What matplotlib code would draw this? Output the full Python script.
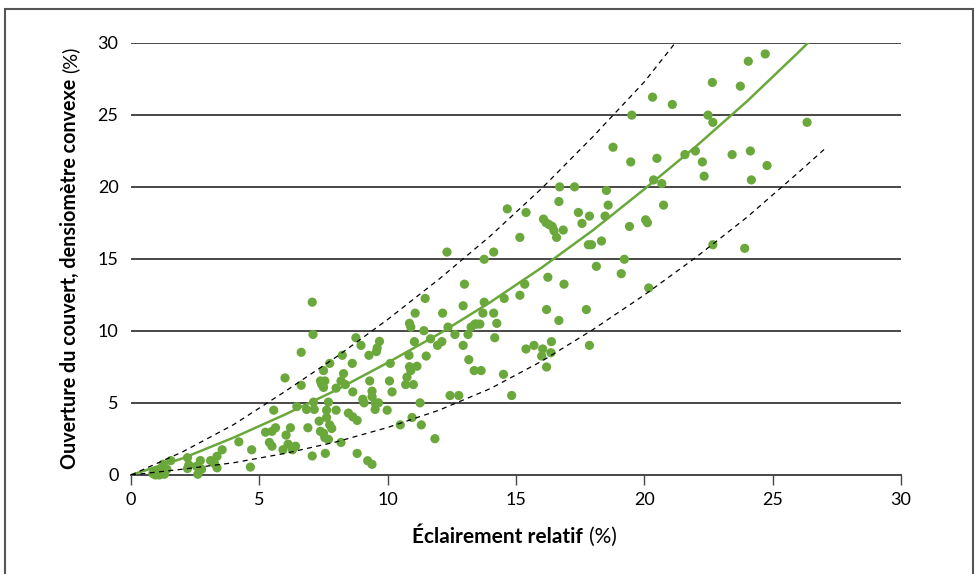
import numpy as np
import matplotlib
matplotlib.use('Agg')
import matplotlib.pyplot as plt
from matplotlib.patches import Rectangle

# Données : éclairement relatif (%) et ouverture du couvert (%)
eclairement = [
    0.85, 0.95, 1.1, 1.3, 1.0, 1.2, 1.4, 1.25, 1.55,
    2.2, 2.25, 2.2, 2.55, 2.6, 2.7, 2.75, 3.1, 3.35, 3.25, 3.35, 3.55, 4.2, 4.7, 4.65,
    5.24, 5.39, 5.49, 5.56, 5.49, 5.63, 5.92, 6.0, 6.04, 6.12, 6.21, 6.29, 6.41, 6.46,
    6.63, 6.63, 6.84, 6.89, 7.06, 7.06, 7.09, 7.11, 7.14, 7.38, 7.43, 7.5, 7.5, 7.55,
    7.57, 7.33, 7.38, 7.5, 7.62, 7.62, 7.69, 7.74, 7.69, 7.74, 7.82, 7.55, 7.99, 7.99,
    8.18, 8.23, 8.28, 8.18, 8.35, 8.47, 8.62, 8.64, 8.64, 8.76, 8.81, 8.81, 8.96, 9.03,
    9.08, 9.22, 9.27, 9.3, 9.39, 9.39, 9.39, 9.51, 9.51, 9.56, 9.59, 9.68, 9.64, 9.98,
    10.07, 10.1, 10.17, 10.49, 10.7, 10.75, 10.83, 10.85, 10.9, 10.9, 10.95, 11.0, 11.04,
    11.07, 11.14, 10.85, 11.26, 11.31, 11.41, 11.46, 11.5, 11.67, 11.84, 11.94, 12.11,
    12.14, 12.35, 12.43, 12.62, 12.77, 12.94, 12.94, 12.99, 13.13, 13.16, 13.25, 13.37,
    13.4, 13.47, 13.59, 13.64, 13.71, 13.76, 14.13, 14.17, 14.25, 12.31, 13.76, 14.13,
    14.51, 14.54, 14.66, 14.83, 15.15, 15.15, 15.34, 15.39, 15.39, 15.7, 16.0, 16.04,
    16.07, 16.17, 16.19, 16.19, 16.24, 16.29, 16.36, 16.38, 16.41, 16.48, 16.58, 16.67,
    16.67, 16.7, 16.84, 16.87, 17.28, 17.43, 17.57, 17.74, 17.82, 17.86, 17.94, 17.86,
    18.13, 18.33, 18.47, 18.52, 18.59, 18.78, 19.1, 19.22, 19.42, 19.47, 19.51, 20.05,
    20.12, 20.17, 20.32, 20.36, 20.49, 20.68, 20.75, 21.09, 21.58, 21.99, 22.26, 22.33,
    22.48, 22.65, 22.67, 22.67, 23.42, 23.74, 23.91, 24.05, 24.13, 24.17, 24.71, 24.78,
    26.34]
ouverture = [
    0.1, 0.0, 0.0, 0.05, 0.3, 0.35, 0.4, 0.75, 1.0,
    1.2, 0.7, 0.45, 0.6, 0.05, 1.0, 0.4, 1.0, 1.3, 0.8, 0.5, 1.75, 2.3, 1.75, 0.55,
    2.97, 2.26, 2.0, 4.5, 3.03, 3.28, 1.75, 6.74, 2.77, 2.14, 3.28, 1.75, 2.0, 4.75,
    8.52, 6.23, 4.55, 3.28, 1.32, 12.0, 9.76, 5.06, 4.55, 6.53, 6.28, 6.08, 7.25, 6.53,
    1.5, 3.74, 3.03, 2.9, 3.99, 4.5, 5.06, 3.48, 2.47, 7.75, 3.23, 2.59, 4.5, 6.03,
    2.26, 8.31, 7.04, 6.53, 6.28, 4.3, 7.75, 5.77, 4.04, 9.53, 3.79, 1.5, 9.0, 5.26,
    5.01, 0.99, 8.31, 6.53, 0.74, 5.82, 5.44, 5.01, 4.55, 8.57, 8.82, 9.28, 5.01, 4.5,
    6.53, 7.75, 5.77, 3.48, 6.28, 6.79, 8.31, 10.53, 10.27, 7.25, 3.99, 6.28, 9.26,
    11.24, 7.55, 7.52, 5.01, 3.48, 10.02, 12.26, 8.26, 9.46, 2.52, 9.0, 9.26,
    11.24, 10.27, 5.52, 9.76, 5.52, 9.0, 11.75, 13.25, 9.76, 8.01, 10.27, 7.25,
    10.48, 10.48, 10.48, 7.25, 11.24, 12.0, 11.24, 9.53, 10.53, 15.48, 14.98, 15.48,
    6.99, 12.26, 18.48, 5.52, 12.48, 16.5, 13.25, 8.75, 18.23, 9.0, 8.26, 8.75,
    17.77, 17.52, 11.49, 7.5, 13.73, 17.39, 8.49, 9.26, 17.26, 16.96, 16.5, 18.99,
    10.73, 20.01, 17.01, 13.25, 20.01, 18.23, 17.47, 11.49, 15.99, 9.0, 15.99, 17.98,
    14.49, 16.25, 17.98, 19.76, 18.74, 22.76, 13.98, 14.98, 17.26, 21.74, 24.99, 17.72,
    17.52, 12.99, 26.24, 20.49, 21.99, 20.24, 18.74, 25.73, 22.25, 22.5, 21.74, 20.75,
    24.99, 27.26, 24.49, 15.99, 22.25, 27.0, 15.74, 28.73, 22.5, 20.49, 29.24, 21.49,
    24.49]

# Courbe ajustée et limites
courbe_x = [0, 2, 4, 6, 8, 10, 12, 14, 16, 18, 20, 22, 24, 26, 26.4]
courbe_y = [0, 1.15, 2.6, 4.2, 5.9, 7.8, 9.8, 12.0, 14.4, 17.0, 19.85, 22.8, 25.95, 29.35, 30.05]
sup_x = [0, 2, 4, 6, 8, 10, 12, 14, 16, 18, 20, 21.2]
sup_y = [0, 1.6, 3.5, 5.8, 8.2, 10.8, 13.6, 16.6, 19.9, 23.5, 27.3, 30.0]
inf_x = [0, 2, 4, 6, 8, 10, 12, 14, 16, 18, 20, 22, 24, 26, 27]
inf_y = [0, 0.4, 0.85, 1.5, 2.3, 3.3, 4.5, 6.0, 7.9, 10.1, 12.5, 15.1, 17.9, 21.0, 22.6]

ticks = [0, 5, 10, 15, 20, 25, 30]
vert = '#6aa83c'
gris = '#474747'

plt.rcParams['font.family'] = ['Lato', 'DejaVu Sans']

fig = plt.figure(figsize=(9.75, 5.74), dpi=100)
ax = fig.add_axes([0.1344, 0.1725, 0.7897, 0.7526])

# Lignes horizontales de la grille
for t in ticks[1:]:
    ax.axhline(t, color=gris, linewidth=1.4, zorder=1)

ax.scatter(eclairement, ouverture, s=44, color=vert, edgecolors='none', zorder=3, clip_on=False)
ax.plot(courbe_x, courbe_y, color=vert, linewidth=1.8, zorder=4)
ax.plot(sup_x, sup_y, color='black', linewidth=0.9, linestyle=(0, (4, 3.5)), zorder=4)
ax.plot(inf_x, inf_y, color='black', linewidth=0.9, linestyle=(0, (4, 3.5)), zorder=4)

ax.set_xlim(0, 30)
ax.set_ylim(0, 30)
ax.set_xticks(ticks)
ax.set_yticks(ticks)
for s in ['top', 'right', 'left']:
    ax.spines[s].set_visible(False)
ax.spines['bottom'].set_color(gris)
ax.spines['bottom'].set_linewidth(1.4)
ax.tick_params(axis='x', direction='out', length=7, width=1.0, color=gris, labelsize=13, pad=5)
ax.tick_params(axis='y', length=0, labelsize=13, pad=9)

# Titres des axes : partie en gras + "(%)" en normal, alignés sur la ligne de base
def titre(gras, normal, x, y, taille, rot):
    t1 = fig.text(x, y, gras, fontsize=taille, fontweight='bold', rotation=rot,
                  rotation_mode='anchor', ha='center', va='baseline')
    t2 = fig.text(x, y, normal, fontsize=taille, rotation=rot,
                  rotation_mode='anchor', ha='center', va='baseline')
    fig.canvas.draw()
    r = fig.canvas.get_renderer()
    e1 = t1.get_window_extent(r)
    e2 = t2.get_window_extent(r)
    W, H = fig.bbox.width, fig.bbox.height
    esp = taille * 0.42
    if rot == 0:
        l1, l2 = e1.width, e2.width
        tot = l1 + esp + l2
        c = x * W - tot / 2
        t1.set_x((c + l1 / 2) / W)
        t2.set_x((c + l1 + esp + l2 / 2) / W)
    else:
        l1, l2 = e1.height, e2.height
        tot = l1 + esp + l2
        c = y * H - tot / 2
        t1.set_y((c + l1 / 2) / H)
        t2.set_y((c + l1 + esp + l2 / 2) / H)

titre('Éclairement relatif', '(%)', 0.528, 0.054, 15, 0)
titre('Ouverture du couvert, densiomètre convexe', '(%)', 0.078, 0.551, 14.2, 90)

# Cadre autour de la figure
fig.patches.append(Rectangle((0.0051, -0.01), 0.9929, 0.9943, transform=fig.transFigure,
                             fill=False, edgecolor='#555555', linewidth=1.5))

fig.savefig('out.png', dpi=100)
